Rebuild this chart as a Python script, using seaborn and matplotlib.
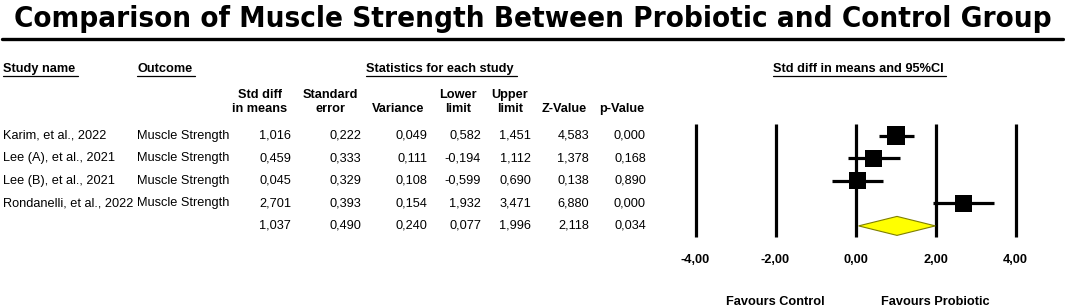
import matplotlib
matplotlib.use('Agg')
import matplotlib.pyplot as plt
import matplotlib.transforms as mtransforms
from matplotlib.lines import Line2D
import seaborn as sns
import numpy as np
import pandas as pd

# data
studies = ['Karim, et al., 2022', 'Lee (A), et al., 2021', 'Lee (B), et al., 2021',
           'Rondanelli, et al., 2022', '']
outcomes = ['Muscle Strength', 'Muscle Strength', 'Muscle Strength', 'Muscle Strength', '']
std_diff = [1.016, 0.459, 0.045, 2.701, 1.037]
std_err = [0.222, 0.333, 0.329, 0.393, 0.490]
variance = [0.049, 0.111, 0.108, 0.154, 0.240]
lower = [0.582, -0.194, -0.599, 1.932, 0.077]
upper = [1.451, 1.112, 0.690, 3.471, 1.996]
z_value = [4.583, 1.378, 0.138, 6.880, 2.118]
p_value = [0.000, 0.168, 0.890, 0.000, 0.034]
axis_ticks = [-4, -2, 0, 2, 4]

df = pd.DataFrame({'study': studies, 'outcome': outcomes, 'effect': std_diff,
                   'se': std_err, 'var': variance, 'lo': lower, 'hi': upper,
                   'z': z_value, 'p': p_value})
df['row'] = np.arange(len(df))
studies_df = df.iloc[:-1]
pooled = df.iloc[-1]

sns.set_theme(style='white')
plt.rcParams['font.family'] = ['Liberation Sans', 'DejaVu Sans']
plt.rcParams['text.color'] = 'black'
plt.rcParams['xtick.color'] = 'black'

W, H = 1065, 308
fig = plt.figure(figsize=(W / 100, H / 100), dpi=100)
fig.patch.set_facecolor('white')


def fx(px):
    return px / W


def fy(py):
    return 1 - py / H


def fmt(v):
    return f'{v:.3f}'.replace('.', ',')


FS = 9.2

# title and rule
fig.text(0.5, fy(19), 'Comparison of Muscle Strength Between Probiotic and Control Group',
         ha='center', va='center', fontsize=21.2, fontweight='bold',
         fontstretch='condensed', family='DejaVu Sans')
fig.add_artist(Line2D([fx(2), fx(1063)], [fy(39), fy(39)], color='black', lw=2.4,
                      transform=fig.transFigure))

# section headers (underlined)
headers = [(3, 'Study name', 'left'), (137, 'Outcome', 'left'),
           (440, 'Statistics for each study', 'center'),
           (858, 'Std diff in means and 95%CI', 'center')]
head_texts = []
for x, s, ha in headers:
    head_texts.append(fig.text(fx(x), fy(69), s, ha=ha, va='center', fontsize=FS,
                               fontweight='bold'))

# column headers
col_heads = [(260, 'Std diff\nin means'), (330, 'Standard\nerror'), (398, 'Variance'),
             (458, 'Lower\nlimit'), (510, 'Upper\nlimit'), (564, 'Z-Value'), (622, 'p-Value')]
for x, s in col_heads:
    lines = s.split('\n')
    if len(lines) == 2:
        fig.text(fx(x), fy(95), lines[0], ha='center', va='center', fontsize=FS, fontweight='bold')
        fig.text(fx(x), fy(109), lines[1], ha='center', va='center', fontsize=FS, fontweight='bold')
    else:
        fig.text(fx(x), fy(109), s, ha='center', va='center', fontsize=FS, fontweight='bold')

# table rows
row_y = [135.5, 158.2, 180.8, 203.4, 226]
num_cols = [(291, 'effect'), (361, 'se'), (427, 'var'), (481, 'lo'), (531, 'hi'),
            (589, 'z'), (646, 'p')]
for i, r in df.iterrows():
    y = fy(row_y[i])
    fig.text(fx(3), y, r['study'], ha='left', va='center', fontsize=FS)
    fig.text(fx(137), y, r['outcome'], ha='left', va='center', fontsize=FS)
    for x, c in num_cols:
        fig.text(fx(x), y, fmt(r[c]), ha='right', va='center', fontsize=FS)

# forest plot axes: 40 px per unit, zero at x=855.5 px
pitch = 22.6
top_px, bot_px = 118, 240
ax = fig.add_axes([fx(655.5), fy(bot_px), 400 / W, (bot_px - top_px) / H])
ax.set_xlim(-5, 5)
ax.set_ylim((bot_px - 135.5) / pitch, (top_px - 135.5) / pitch)
ax.patch.set_alpha(0)
for sp in ax.spines.values():
    sp.set_visible(False)

ax.vlines(axis_ticks, -0.5, 4.48, color='black', lw=2.3)
ax.hlines(studies_df['row'], studies_df['lo'], studies_df['hi'], color='black', lw=2.3)
sns.scatterplot(data=studies_df, x='effect', y='row', marker='s', color='black',
                s=[170, 150, 150, 150], linewidth=0, legend=False, ax=ax, zorder=3)
h = 0.42
ax.fill([pooled['lo'], pooled['effect'], pooled['hi'], pooled['effect']],
        [pooled['row'], pooled['row'] - h, pooled['row'], pooled['row'] + h],
        facecolor='#ffff00', edgecolor='#7f7f00', lw=0.8, zorder=3)

ax.set_xticks(axis_ticks)
ax.set_xticklabels([fmt(t)[:-1] for t in axis_ticks], fontsize=FS, fontweight='bold')
ax.set_yticks([])
ax.set_xlabel('')
ax.set_ylabel('')
ax.tick_params(axis='x', length=0, pad=10, colors='black')

blend = mtransforms.blended_transform_factory(ax.transData, fig.transFigure)
ax.text(-2, fy(302), 'Favours Control', transform=blend, ha='center', va='center',
        fontsize=FS, fontweight='bold')
ax.text(2, fy(302), 'Favours Probiotic', transform=blend, ha='center', va='center',
        fontsize=FS, fontweight='bold')

# underline the section headers
fig.canvas.draw()
for t in head_texts:
    bb = t.get_window_extent()
    fig.add_artist(Line2D([fx(bb.x0), fx(bb.x1 + 3)], [fy(76), fy(76)], color='black',
                          lw=0.9, transform=fig.transFigure))

fig.savefig('out.png', dpi=100, facecolor='white')
